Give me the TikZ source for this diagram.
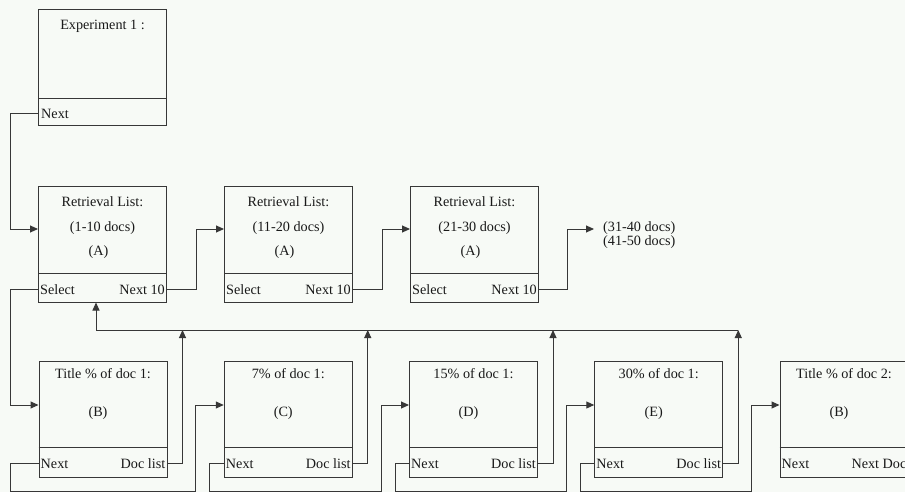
\documentclass[tikz,border=0pt]{standalone}
\usepackage{fontspec}
\setmainfont{Liberation Serif}
\usetikzlibrary{arrows.meta,positioning}
\definecolor{paper}{RGB}{247,250,246}
\definecolor{ink}{RGB}{55,55,55}
\definecolor{txt}{RGB}{25,25,25}

\begin{document}
\begin{tikzpicture}[x=1pt,y=-1pt,
    box/.style={draw=ink,line width=1pt,minimum width=128pt,minimum height=116pt,inner sep=0pt},
    lbl/.style={font=\fontsize{14.2}{14}\selectfont,text=txt,inner sep=1pt},
    link/.style={draw=ink,line width=1pt},
    tip/.style={-{Triangle[length=8pt,width=7pt]}}]
  \fill[paper] (0,0) rectangle (905,492);
  \useasboundingbox (0,0) rectangle (905,492);
  \clip (0,0) rectangle (905,492);

  % experiment
  \node[box] (exp) at (102.5,68) {};
  \draw[link] ([yshift=28pt]exp.south west) -- ([yshift=28pt]exp.south east);
  \node[lbl] (exp-ttl) at ([yshift=-17pt]exp.north) {Experiment 1 :};
  \node[lbl,anchor=west] (exp-nx) at ([shift={(2pt,13pt)}]exp.south west) {Next};

  % retrieval lists
  \foreach \nm/\i/\rng in {rl1/0/1-10, rl2/1/11-20, rl3/2/21-30}{
    \node[box] (\nm) at (102.5+186*\i,244) {};
    \draw[link] ([yshift=29pt]\nm.south west) -- ([yshift=29pt]\nm.south east);
    \node[lbl] (\nm-ttl) at ([yshift=-16pt]\nm.north) {Retrieval List:};
    \node[lbl] (\nm-rng) at ([yshift=16pt]\nm.center) {(\rng\ docs)};
    \node[lbl] (\nm-ltr) at ([shift={(-4pt,-8pt)}]\nm.center) {(A)};
    \node[lbl,anchor=west] (\nm-sel) at ([shift={(1pt,13pt)}]\nm.south west) {Select};
    \node[lbl,anchor=east] (\nm-nx) at ([shift={(-1pt,13pt)}]\nm.south east) {Next 10};
  }
  \coordinate (more-tip) at (594,229);
  \node[lbl,align=left,anchor=west,font=\fontsize{14.2}{12.5}\selectfont] (more) at (602,235) {(31-40 docs)\\(41-50 docs)};

  % document parts
  \foreach \nm/\i/\ttl/\ltr/\rt in {tb1/0/{Title \% of doc 1:}/B/Doc list,
      pc/1/{7\% of doc 1:}/C/Doc list, pd/2/{15\% of doc 1:}/D/Doc list,
      pe/3/{30\% of doc 1:}/E/Doc list, tb2/4/{Title \% of doc 2:}/B/Next Doc}{
    \node[box] (\nm) at (103+185.25*\i,419) {};
    \draw[link] ([yshift=30pt]\nm.south west) -- ([yshift=30pt]\nm.south east);
    \node[lbl] (\nm-ttl) at ([yshift=-13pt]\nm.north) {\ttl};
    \node[lbl] (\nm-ltr) at ([shift={(-5pt,6pt)}]\nm.center) {(\ltr)};
    \node[lbl,anchor=west] (\nm-nx) at ([shift={(1pt,14pt)}]\nm.south west) {Next};
    \node[lbl,anchor=east] (\nm-rt) at ([shift={(-1pt,14pt)}]\nm.south east) {\rt};
  }

  % next links
  \draw[link,tip] (exp.west |- exp-nx) -- ++(-28,0) |- ([yshift=15pt]rl1.west);
  \draw[link,tip] (rl1.east |- rl1-nx) -- ++(29,0) |- ([yshift=15pt]rl2.west);
  \draw[link,tip] (rl2.east |- rl2-nx) -- ++(29,0) |- ([yshift=15pt]rl3.west);
  \draw[link,tip] (rl3.east |- rl3-nx) -- ++(28,0) |- (more-tip);
  \draw[link,tip] (rl1.west |- rl1-sel) -- ++(-28,0) |- ([yshift=14pt]tb1.west);
  \foreach \a/\b/\d in {tb1/pc/28, pc/pd/14, pd/pe/14, pe/tb2/14}{
    \draw[link,tip] (\a.west |- \a-nx) -- ++(-\d,0) -- ++(0,28)
      -| ([shift={(-28pt,14pt)}]\b.west) -- ([yshift=14pt]\b.west);
  }

  % doc list links
  \coordinate (fb) at (96,330);
  \foreach \nm in {tb1,pc,pd,pe}{
    \draw[link,tip] (\nm.east |- \nm-rt) -- ++(15,0) coordinate (\nm-up) -- (\nm-up |- fb);
  }
  \draw[link] (fb) -- (pe-up |- fb);
  \draw[link,tip] (fb) -- (fb |- rl1.south);
\end{tikzpicture}
\end{document}
